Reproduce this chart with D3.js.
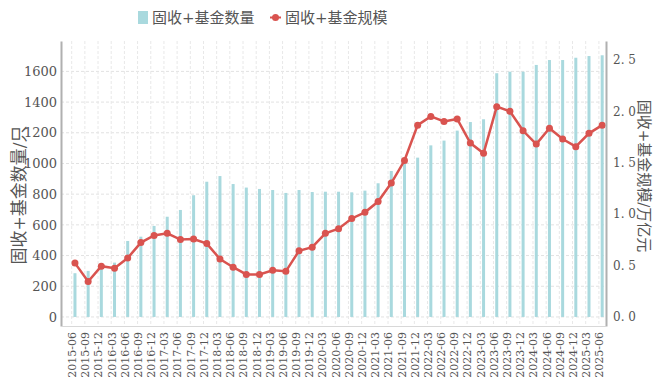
<!DOCTYPE html>
<html lang="zh">
<head>
<meta charset="UTF-8" />
<title>固收+基金数量与规模</title>
<script src="https://d3js.org/d3.v7.min.js"></script>
<style>
  body { margin: 0; background: #fff; }
</style>
</head>
<body>
<div id="chart"></div>
<script>
// quarters, 2015-06 .. 2025-06
var quarters = [
  "2015-06","2015-09","2015-12","2016-03","2016-06","2016-09","2016-12","2017-03","2017-06","2017-09","2017-12",
  "2018-03","2018-06","2018-09","2018-12","2019-03","2019-06","2019-09","2019-12","2020-03","2020-06","2020-09",
  "2020-12","2021-03","2021-06","2021-09","2021-12","2022-03","2022-06","2022-09","2022-12","2023-03","2023-06",
  "2023-09","2023-12","2024-03","2024-06","2024-09","2024-12","2025-03","2025-06"
];
// 固收+基金数量 (只)
var fundCount = [
  285, 300, 320, 354, 495, 523, 593, 653, 697, 793, 881,
  918, 866, 843, 834, 827, 808, 827, 814, 816, 816, 812,
  823, 871, 951, 1000, 1038, 1118, 1149, 1214, 1270, 1288, 1588,
  1598, 1598, 1642, 1674, 1674, 1689, 1700, 1705
];
// 固收+基金规模 (万亿元)
var fundScale = [
  0.52, 0.34, 0.49, 0.47, 0.57, 0.72, 0.79, 0.81, 0.75, 0.755, 0.71,
  0.56, 0.48, 0.41, 0.41, 0.45, 0.44, 0.64, 0.675, 0.81, 0.855, 0.955,
  1.015, 1.12, 1.30, 1.52, 1.865, 1.95, 1.90, 1.925, 1.69, 1.59, 2.045,
  2.00, 1.81, 1.68, 1.835, 1.73, 1.655, 1.785, 1.865
];
var leftTicks = [0, 200, 400, 600, 800, 1000, 1200, 1400, 1600];
var rightTicks = [0, 0.5, 1.0, 1.5, 2.0, 2.5];

var w = 657, h = 390;
var pLeft = 61, pRight = 606, pTop = 41, pBottom = 326;
var barColor = "#a9d9de", lineColor = "#d9534f";
var serif = "DejaVu Serif, Noto Sans CJK SC, serif";

var svg = d3.select("#chart").append("svg")
  .attr("width", w)
  .attr("height", h)
  .style("font-family", serif);

var x = d3.scaleLinear().domain([-0.81, 40.54]).range([pLeft, pRight]);
var yL = d3.scaleLinear().domain([-59, 1798]).range([pBottom, pTop]);
var yR = d3.scaleLinear().domain([-0.093, 2.685]).range([pBottom, pTop]);
var shift = 0.25; // bars and points sit a little right of the tick

// grid
var grid = svg.append("g");
grid.selectAll(".hg")
  .data(leftTicks)
  .enter()
  .append("line")
  .attr("x1", pLeft).attr("x2", pRight)
  .attr("y1", function(d) { return yL(d); })
  .attr("y2", function(d) { return yL(d); })
  .attr("stroke", "#e2e2e2")
  .attr("stroke-dasharray", "3,2");
grid.selectAll(".vg")
  .data(quarters)
  .enter()
  .append("line")
  .attr("x1", function(d, i) { return x(i); })
  .attr("x2", function(d, i) { return x(i); })
  .attr("y1", pTop).attr("y2", pBottom)
  .attr("stroke", "#e8e8e8")
  .attr("stroke-dasharray", "3,2");

// bars
svg.selectAll(".bar")
  .data(fundCount)
  .enter()
  .append("rect")
  .attr("x", function(d, i) { return x(i + shift) - 1.5; })
  .attr("y", function(d) { return yL(d); })
  .attr("width", 3)
  .attr("height", function(d) { return yL(0) - yL(d); })
  .attr("fill", barColor);

// line
var line = d3.line()
  .x(function(d, i) { return x(i + shift); })
  .y(function(d) { return yR(d); });
svg.append("path")
  .datum(fundScale)
  .attr("d", line)
  .attr("fill", "none")
  .attr("stroke", lineColor)
  .attr("stroke-width", 2.5);
svg.selectAll(".pt")
  .data(fundScale)
  .enter()
  .append("circle")
  .attr("cx", function(d, i) { return x(i + shift); })
  .attr("cy", function(d) { return yR(d); })
  .attr("r", 3.5)
  .attr("fill", lineColor);

// axes
var axL = svg.append("g")
  .attr("transform", "translate(" + pLeft + ",0)")
  .call(d3.axisLeft(yL).tickValues(leftTicks).tickSize(0).tickPadding(4).tickFormat(d3.format("d")));
var axR = svg.append("g")
  .attr("transform", "translate(" + pRight + ",0)")
  .call(d3.axisRight(yR).tickValues(rightTicks).tickSize(0).tickPadding(7)
    .tickFormat(function(d) { return d.toFixed(1).replace(".", ". "); }));
var axB = svg.append("g")
  .attr("transform", "translate(0," + pBottom + ")")
  .call(d3.axisBottom(x).tickValues(d3.range(quarters.length)).tickSize(0)
    .tickFormat(function(d) { return quarters[d]; }));

[axL, axR, axB].forEach(function(a) {
  a.attr("font-family", null).attr("font-size", 13);
  a.selectAll("text").style("font-family", serif).attr("fill", "#555");
});
axL.select(".domain").attr("stroke", "#b0b0b0").attr("stroke-width", 2);
axR.select(".domain").attr("stroke", "#b0b0b0").attr("stroke-width", 2);
axB.select(".domain").attr("stroke", "#d8d8d8").attr("stroke-width", 1);
axR.attr("font-size", 12);
axB.attr("font-size", 11);
axB.selectAll("text")
  .attr("transform", "rotate(-90)")
  .attr("text-anchor", "end")
  .attr("x", -6)
  .attr("y", 0)
  .attr("dy", "0.35em");

// axis titles
svg.append("text")
  .attr("transform", "translate(25,195) rotate(-90)")
  .attr("text-anchor", "middle")
  .attr("font-size", "17px")
  .attr("fill", "#555")
  .text("固收+基金数量/只");
svg.append("text")
  .attr("transform", "translate(639,176) rotate(90)")
  .attr("text-anchor", "middle")
  .attr("font-size", "15px")
  .attr("fill", "#555")
  .text("固收+基金规模/万亿元");

// legend
var lg = svg.append("g").attr("fill", "#555");
lg.append("rect")
  .attr("x", 138).attr("y", 11)
  .attr("width", 10).attr("height", 13)
  .attr("fill", barColor);
lg.append("text")
  .attr("x", 152).attr("y", 23)
  .attr("font-size", "15px")
  .text("固收+基金数量");
lg.append("line")
  .attr("x1", 270).attr("x2", 281)
  .attr("y1", 17.5).attr("y2", 17.5)
  .attr("stroke", lineColor).attr("stroke-width", 2);
lg.append("circle")
  .attr("cx", 275.5).attr("cy", 17.5).attr("r", 3.5)
  .attr("fill", lineColor);
lg.append("text")
  .attr("x", 285).attr("y", 23)
  .attr("font-size", "15px")
  .text("固收+基金规模");
</script>
</body>
</html>
